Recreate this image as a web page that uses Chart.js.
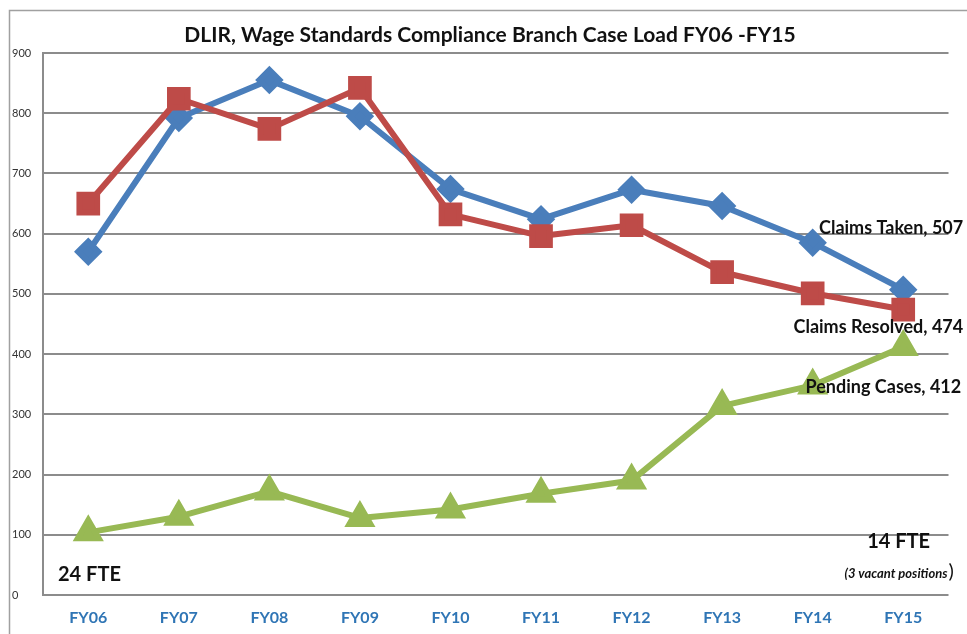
<!DOCTYPE html>
<html>
<head>
<meta charset="utf-8">
<script src="https://cdn.jsdelivr.net/npm/chart.js@4.4.1/dist/chart.umd.min.js"></script>
<style>
  html, body { margin: 0; padding: 0; background: #fff; }
  #wrap { width: 967px; height: 634px; position: relative; }
</style>
</head>
<body>
<div id="wrap"><canvas id="case-chart" width="967" height="634"></canvas></div>
<script>
var years = ['FY06', 'FY07', 'FY08', 'FY09', 'FY10', 'FY11', 'FY12', 'FY13', 'FY14', 'FY15'];
var claimsTaken = [570, 792, 855, 795, 674, 624, 673, 646, 585, 507];
var claimsResolved = [650, 824, 774, 842, 632, 596, 614, 536, 501, 474];
var pendingCases = [104, 130, 172, 128, 142, 168, 190, 314, 348, 412];
var yTicks = [0, 100, 200, 300, 400, 500, 600, 700, 800, 900];

var FONT = 'Lato, "Open Sans", sans-serif';

// text that sits on the chart: title, end labels, staff notes
var notes = {
    id: 'notes',
    afterDraw: function (chart) {
        var ctx = chart.ctx;
        var area = chart.chartArea;
        var x = chart.scales.x;
        var y = chart.scales.y;
        var last = years.length - 1;
        ctx.save();

        // outer frame
        ctx.strokeStyle = '#a0a0a0';
        ctx.lineWidth = 1.5;
        ctx.beginPath();
        ctx.moveTo(9.5, 634);
        ctx.lineTo(9.5, 10.5);
        ctx.lineTo(967, 10.5);
        ctx.stroke();

        ctx.fillStyle = '#111';
        ctx.textBaseline = 'middle';
        ctx.textAlign = 'center';
        ctx.font = 'bold 21px ' + FONT;
        ctx.fillText('DLIR, Wage Standards Compliance Branch Case Load FY06 -FY15', 490, 35);

        var px = x.getPixelForValue(last);
        ctx.font = 'bold 18px ' + FONT;
        ctx.textAlign = 'right';
        ctx.fillText('Claims Taken, ' + claimsTaken[last], px + 60, y.getPixelForValue(claimsTaken[last]) - 61);
        ctx.fillText('Claims Resolved, ' + claimsResolved[last], px + 60, y.getPixelForValue(claimsResolved[last]) + 18);
        ctx.fillText('Pending Cases, ' + pendingCases[last], px + 58, y.getPixelForValue(pendingCases[last]) + 40);

        ctx.font = 'bold 20px ' + FONT;
        ctx.textAlign = 'left';
        ctx.fillText('24 FTE', area.left + 15, area.bottom - 20);
        ctx.fillText('14 FTE', px - 36, area.bottom - 53);

        ctx.font = 'italic bold 13px ' + FONT;
        ctx.textAlign = 'right';
        ctx.fillText('(3 vacant positions', area.right - 1, area.bottom - 21);
        ctx.font = '20px ' + FONT;
        ctx.textAlign = 'left';
        ctx.fillText(')', area.right, area.bottom - 23);
        ctx.restore();
    }
};

new Chart(document.getElementById('case-chart'), {
    type: 'line',
    data: {
        labels: years,
        datasets: [{
            label: 'Claims Taken',
            data: claimsTaken,
            borderColor: '#4a7ebb',
            backgroundColor: '#4a7ebb',
            borderWidth: 6,
            pointStyle: 'rectRot',
            pointRadius: 10,
            order: 2
        }, {
            label: 'Claims Resolved',
            data: claimsResolved,
            borderColor: '#be4b48',
            backgroundColor: '#be4b48',
            borderWidth: 6,
            pointStyle: 'rect',
            pointRadius: 12.5,
            order: 1
        }, {
            label: 'Pending Cases',
            data: pendingCases,
            borderColor: '#98b954',
            backgroundColor: '#98b954',
            borderWidth: 6,
            pointStyle: 'triangle',
            pointRadius: 12,
            order: 0
        }]
    },
    options: {
        responsive: false,
        animation: false,
        layout: { padding: { left: 12, top: 53, right: 14, bottom: 0 } },
        elements: {
            line: { tension: 0, borderJoinStyle: 'round', borderCapStyle: 'round' },
            point: { borderWidth: 0, hoverRadius: 10 }
        },
        plugins: {
            legend: { display: false },
            title: { display: false },
            tooltip: { enabled: false }
        },
        scales: {
            x: {
                offset: true,
                grid: { display: false, drawTicks: false },
                border: { display: false },
                ticks: {
                    color: '#2f75b5',
                    font: { family: FONT, size: 16, weight: 'bold' },
                    padding: 13,
                    maxRotation: 0
                },
                afterFit: function (scale) { scale.height = 39; }
            },
            y: {
                min: 0,
                max: 900,
                afterBuildTicks: function (scale) {
                    scale.ticks = yTicks.map(function (v) { return { value: v }; });
                },
                grid: { color: '#8c8c8c', lineWidth: 2, drawTicks: false },
                border: { display: true, color: '#8c8c8c', width: 2 },
                ticks: {
                    color: '#333',
                    font: { family: FONT, size: 11 },
                    crossAlign: 'far',
                    padding: 4
                },
                afterFit: function (scale) { scale.width = 31; }
            }
        }
    },
    plugins: [notes]
});
</script>
</body>
</html>
